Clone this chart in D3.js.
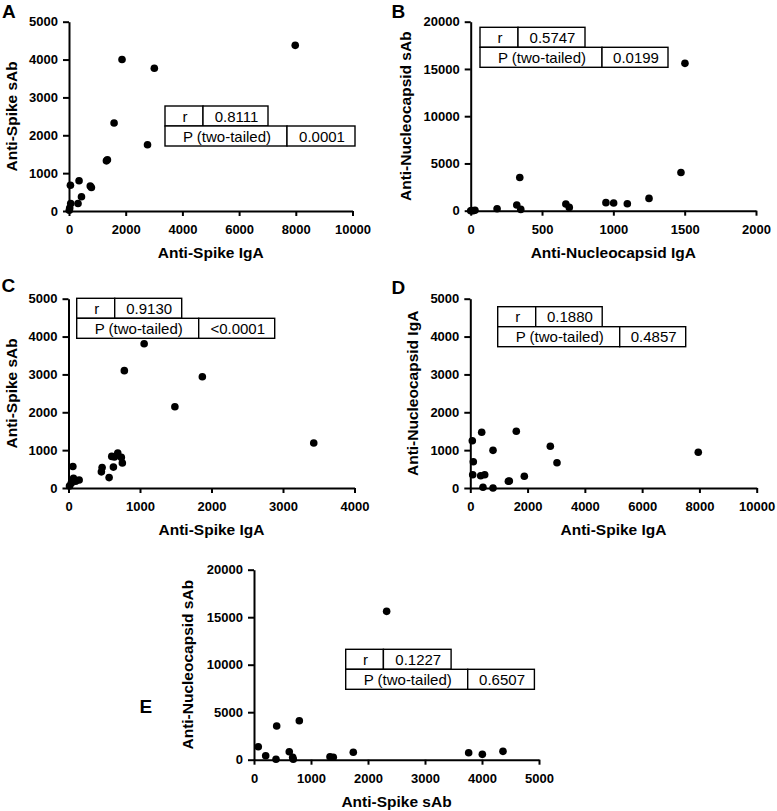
<!DOCTYPE html>
<html>
<head>
<meta charset="utf-8">
<script src="https://cdn.jsdelivr.net/npm/d3@7"></script>
<style>
  html, body { margin: 0; padding: 0; background: #fff; }
  svg { display: block; font-family: "Liberation Sans", Arial, sans-serif; }
</style>
</head>
<body>
<script>
// ---------- DATA ----------
// Panel A: Anti-Spike IgA (x) vs Anti-Spike sAb (y)
const aX = [7980, 1870, 3010, 1590, 2770, 1355, 1320, 355, 50, 750, 790, 440, 318, 60, 25, 10];
const aY = [4375, 4000, 3770, 2325, 1750, 1355, 1325, 800, 680, 660, 620, 375, 200, 200, 80, 20];
const aStats = ["0.8111", "0.0001"];

// Panel B: Anti-Nucleocapsid IgA (x) vs Anti-Nucleocapsid sAb (y)
const bX = [1502, 1474, 344, 1250, 948, 1002, 1098, 667, 691, 323, 351, 185, 0, 17, 30, 8];
const bY = [15590, 4050, 3520, 1300, 850, 815, 740, 710, 350, 600, 140, 210, 0, 0, 40, 20];
const bStats = ["0.5747", "0.0199"];

// Panel C: Anti-Spike IgA (x) vs Anti-Spike sAb (y)
const cX = [1058, 781, 1872, 1488, 3430, 689, 605, 642, 739, 753, 628, 470, 460, 568, 61, 70, 149, 100, 38, 14];
const cY = [3812, 3099, 2940, 2148, 1188, 925, 835, 818, 808, 659, 552, 541, 427, 275, 568, 259, 213, 180, 125, 53];
const cStats = ["0.9130", "<0.0001"];

// Panel D: Anti-Spike IgA (x) vs Anti-Nucleocapsid IgA (y)
const dX = [7960, 1886, 3027, 1606, 2794, 1362, 1330, 398, 70, 793, 793, 443, 363, 503, 105, 84];
const dY = [943, 309, 668, 1497, 1101, 185, 180, 1471, 1249, 995, 0, 18, 325, 351, 695, 351];
const dStats = ["0.1880", "0.4857"];

// Panel E: Anti-Spike sAb (x) vs Anti-Nucleocapsid sAb (y)
const eX = [2327, 795, 398, 75, 205, 386, 619, 679, 689, 1333, 1391, 1742, 3766, 4006, 4368];
const eY = [15614, 4105, 3547, 1368, 421, 42, 842, 253, 42, 316, 253, 779, 737, 561, 877];
const eStats = ["0.1227", "0.6507"];

// Tick labels
const ticks10k = [0, 2000, 4000, 6000, 8000, 10000];
const ticks2k = [0, 500, 1000, 1500, 2000];
const ticks4k = [0, 1000, 2000, 3000, 4000];
const ticks5k = [0, 1000, 2000, 3000, 4000, 5000];
const ticks20k = [0, 5000, 10000, 15000, 20000];

const statLabels = ["r", "P (two-tailed)"];

// ---------- LAYOUT ----------
const panels = [
  { letter: "A", lx: 2, ly: 18, xs: aX, ys: aY, stats: aStats,
    xTicks: ticks10k, yTicks: ticks5k, x0: 69, x1: 352.5, y0: 211, y1: 21.7,
    xLabel: "Anti-Spike IgA", yLabel: "Anti-Spike sAb", yLabOff: 52,
    tbl: { left: 165, top: 106, w: [38, 65, 122, 68] } },
  { letter: "B", lx: 391.5, ly: 18, xs: bX, ys: bY, stats: bStats,
    xTicks: ticks2k, yTicks: ticks20k, x0: 470.7, x1: 756, y0: 210.7, y1: 21.7,
    xLabel: "Anti-Nucleocapsid IgA", yLabel: "Anti-Nucleocapsid sAb", yLabOff: 60,
    tbl: { left: 480, top: 27.3, w: [38, 67, 122, 66] } },
  { letter: "C", lx: 1.5, ly: 291.5, xs: cX, ys: cY, stats: cStats,
    xTicks: ticks4k, yTicks: ticks5k, x0: 68.5, x1: 354.5, y0: 488, y1: 298.7,
    xLabel: "Anti-Spike IgA", yLabel: "Anti-Spike sAb", yLabOff: 52,
    tbl: { left: 76.7, top: 298.3, w: [38, 67, 122, 76] } },
  { letter: "D", lx: 391.5, ly: 293.5, xs: dX, ys: dY, stats: dStats,
    xTicks: ticks10k, yTicks: ticks5k, x0: 470.3, x1: 756.7, y0: 488, y1: 298.7,
    xLabel: "Anti-Spike IgA", yLabel: "Anti-Nucleocapsid IgA", yLabOff: 52,
    tbl: { left: 497.7, top: 306.7, w: [38, 66.5, 122, 66] } },
  { letter: "E", lx: 139.5, ly: 713, xs: eX, ys: eY, stats: eStats,
    xTicks: ticks5k, yTicks: ticks20k, x0: 254, x1: 539, y0: 759.7, y1: 569.7,
    xLabel: "Anti-Spike sAb", yLabel: "Anti-Nucleocapsid sAb", yLabOff: 61,
    tbl: { left: 345.7, top: 649.3, w: [37.7, 67.7, 122, 66.7] } }
];

// ---------- DRAW ----------
const svg = d3.select("body").append("svg").attr("width", 777).attr("height", 811);

panels.forEach(p => {
  const g = svg.append("g");
  const x = d3.scaleLinear().domain([p.xTicks[0], p.xTicks[p.xTicks.length - 1]]).range([p.x0, p.x1]);
  const y = d3.scaleLinear().domain([p.yTicks[0], p.yTicks[p.yTicks.length - 1]]).range([p.y0, p.y1]);

  const xa = g.append("g").attr("transform", `translate(0,${p.y0})`)
    .call(d3.axisBottom(x).tickValues(p.xTicks).tickFormat(d3.format("d"))
      .tickSize(5).tickSizeOuter(0).tickPadding(9));
  const ya = g.append("g").attr("transform", `translate(${p.x0},0)`)
    .call(d3.axisLeft(y).tickValues(p.yTicks).tickFormat(d3.format("d"))
      .tickSize(6).tickSizeOuter(0).tickPadding(5));
  [xa, ya].forEach(a => {
    a.selectAll("path, line").attr("stroke", "#000").attr("stroke-width", 2);
    a.selectAll("text").attr("fill", "#000").style("font-size", "13px").style("font-weight", "bold")
      .style("font-family", '"Liberation Sans", Arial, sans-serif');
  });

  // dots
  g.append("g").selectAll("circle").data(p.xs.map((v, i) => [v, p.ys[i]])).join("circle")
    .attr("cx", d => x(d[0])).attr("cy", d => y(d[1])).attr("r", 3.8).attr("fill", "#000");

  // axis titles
  g.append("text").attr("x", (p.x0 + p.x1) / 2).attr("y", p.y0 + 47)
    .attr("text-anchor", "middle").style("font-size", "15.5px").style("font-weight", "bold")
    .text(p.xLabel);
  g.append("text").attr("transform", `translate(${p.x0 - p.yLabOff},${(p.y0 + p.y1) / 2}) rotate(-90)`)
    .attr("text-anchor", "middle").style("font-size", "15.5px").style("font-weight", "bold")
    .text(p.yLabel);

  // panel letter
  g.append("text").attr("x", p.lx).attr("y", p.ly)
    .style("font-size", "19px").style("font-weight", "bold").text(p.letter);

  // stats table
  const t = p.tbl, rh = 20;
  const cells = [
    { x: t.left, y: t.top, w: t.w[0], txt: statLabels[0] },
    { x: t.left + t.w[0], y: t.top, w: t.w[1], txt: p.stats[0] },
    { x: t.left, y: t.top + rh, w: t.w[2], txt: statLabels[1] },
    { x: t.left + t.w[2], y: t.top + rh, w: t.w[3], txt: p.stats[1] }
  ];
  const tg = g.append("g");
  tg.selectAll("rect").data(cells).join("rect")
    .attr("x", d => d.x).attr("y", d => d.y).attr("width", d => d.w).attr("height", rh)
    .attr("fill", "#fff").attr("stroke", "#000").attr("stroke-width", 1.4);
  tg.selectAll("text").data(cells).join("text")
    .attr("x", d => d.x + d.w / 2 + 1).attr("y", d => d.y + 15.5)
    .attr("text-anchor", "middle").style("font-size", "15px").text(d => d.txt);
});
</script>
</body>
</html>
